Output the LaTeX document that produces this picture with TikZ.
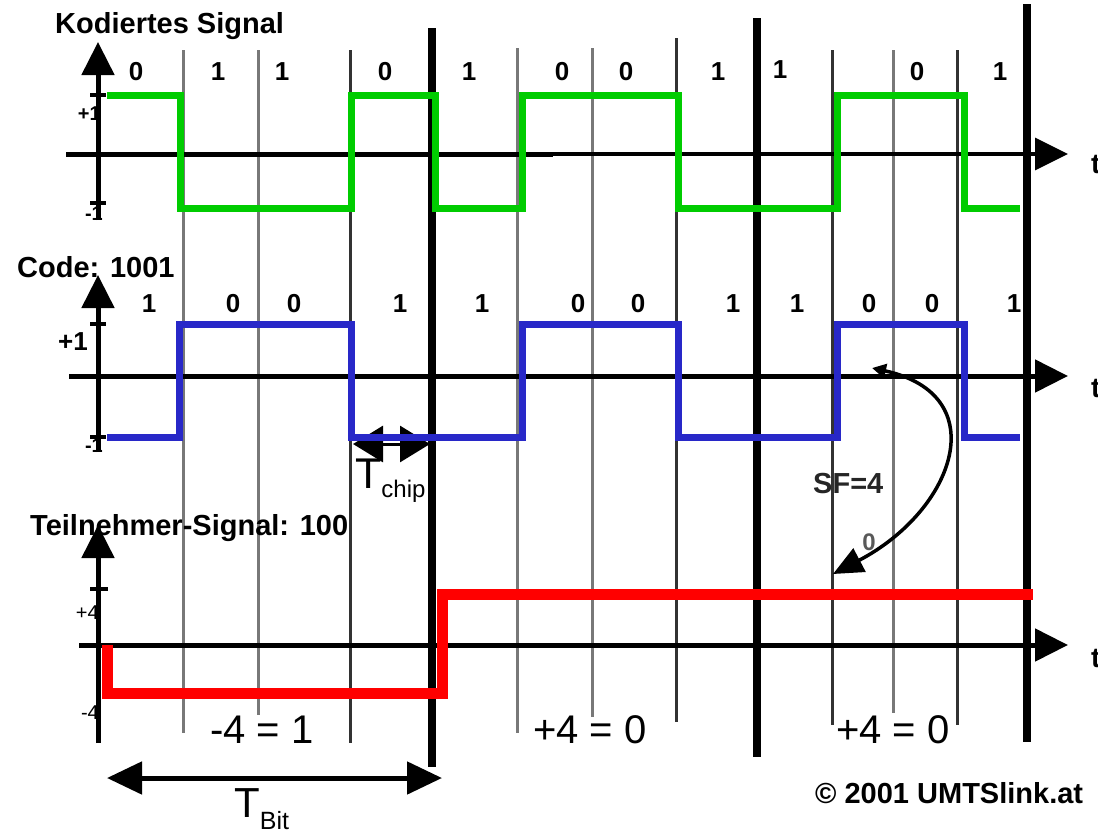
\documentclass[tikz,border=0pt]{standalone}
\usepackage{fontspec}
\setmainfont{Liberation Sans}
\usetikzlibrary{arrows.meta}
\definecolor{sgreen}{RGB}{0,204,0}
\definecolor{sblue}{RGB}{40,40,200}
\definecolor{sred}{RGB}{255,0,0}
\definecolor{glight}{RGB}{120,120,120}
\definecolor{gdark}{RGB}{50,50,50}
\begin{document}
\begin{tikzpicture}[x=1pt,y=-1pt,
  chipline/.style={line width=3pt,glight},
  chipdark/.style={line width=3pt,gdark},
  bitline/.style={line width=8pt,black},
  axisline/.style={line width=5pt,black},
  axarrow/.style={-{Triangle[length=33pt,width=32pt]}},
  tickline/.style={line width=4pt,black},
  sig/.style={line width=7pt,line join=miter},
  lbl/.style={inner sep=0pt,anchor=base,font=\fontsize{26}{26}\selectfont\bfseries},
  ttl/.style={inner sep=0pt,anchor=base west,font=\fontsize{29}{29}\selectfont\bfseries},
  big/.style={inner sep=0pt,anchor=base,font=\fontsize{40}{40}\selectfont},
  ylbl/.style={inner sep=0pt,anchor=base east,font=\fontsize{22}{22}\selectfont\bfseries},
  tlbl/.style={inner sep=0pt,anchor=base west,font=\fontsize{28}{28}\selectfont\bfseries},
]
\useasboundingbox[fill=white] (0,0) rectangle (1098,833);

% chip grid lines
\draw[chipline] (183,50) -- (183,733);
\draw[chipline] (258,50) -- (258,715);
\draw[chipdark] (350,50) -- (350,743);
\draw[chipline] (517,48) -- (517,733);
\draw[chipline] (592,48) -- (592,717);
\draw[chipdark] (676,38) -- (676,722);
\draw[chipdark] (832,50) -- (832,725);
\draw[chipline] (893,50) -- (893,713);
\draw[chipdark] (957,50) -- (957,725);
% bit boundaries
\draw[bitline] (432,28) -- (432,767);
\draw[bitline] (757,18) -- (757,757);
\draw[bitline] (1027,4) -- (1027,742);

% horizontal axes
\draw[axisline] (66,154) -- (553,154);
\draw[line width=3.5pt,axarrow] (553,154) -- (1068,154);
\draw[axisline,axarrow] (69,376) -- (1068,376);
\draw[axisline,axarrow] (79,645) -- (1068,645);
% vertical axes
\draw[axisline,axarrow] (98,220) -- (98,42);
\draw[axisline,axarrow] (98,452) -- (98,275);
\draw[axisline,axarrow] (98,743) -- (98,525);
% ticks
\draw[tickline] (90,95) -- (106,95);
\draw[tickline] (90,203) -- (106,203);
\draw[tickline] (90,324) -- (106,324);
\draw[tickline] (90,437) -- (106,437);
\draw[tickline] (90,589) -- (108,589);

% T_chip arrow (under the blue signal)
\coordinate (tca) at (353,444);
\coordinate (tcb) at (430,444);
\draw[line width=3pt,{Triangle[length=30pt,width=36pt]}-{Triangle[length=30pt,width=36pt]}] (tca) -- (tcb);

% signals
\draw[sig,sgreen] (107,95) -- (180,95) -- (180,208) -- (351,208) -- (351,95) -- (435,95) -- (435,208) -- (522,208) -- (522,95) -- (678,95) -- (678,208) -- (837,208) -- (837,95) -- (964,95) -- (964,208) -- (1020,208);
\draw[sig,sblue] (107,437) -- (179,437) -- (179,324) -- (351,324) -- (351,437) -- (522,437) -- (522,324) -- (678,324) -- (678,437) -- (837,437) -- (837,324) -- (964,324) -- (964,437) -- (1020,437);
\draw[line width=11pt,sred,line join=miter] (107,645) -- (107,693) -- (442,693) -- (442,594) -- (1033,594);

% titles
\node[ttl] (title1) at (55,33) {Kodiertes Signal};
\node[ttl] (title2) at (17,277) {Code: 1001};
\node[ttl] (title3) at (30,535) {Teilnehmer-Signal: 100};

% y labels
\node[ylbl,font=\fontsize{20}{20}\selectfont\bfseries] (p1a) at (101,120) {+1};
\node[ylbl,font=\fontsize{20}{20}\selectfont\bfseries] (m1a) at (103,220) {-1};
\node[ylbl,font=\fontsize{26}{26}\selectfont\bfseries] (p1b) at (88,350) {+1};
\node[ylbl,font=\fontsize{20}{20}\selectfont\bfseries] (m1b) at (103,452) {-1};
\node[ylbl,font=\fontsize{20}{20}\selectfont] (p4) at (99,619) {+4};
\node[ylbl,font=\fontsize{20}{20}\selectfont] (m4) at (99,719) {-4};

% chip labels row 1
\node[lbl] (a1) at (136,80) {0};
\node[lbl] (a2) at (218,80) {1};
\node[lbl] (a3) at (282,80) {1};
\node[lbl] (a4) at (385,80) {0};
\node[lbl] (a5) at (469,80) {1};
\node[lbl] (a6) at (562,80) {0};
\node[lbl] (a7) at (626,80) {0};
\node[lbl] (a8) at (718,80) {1};
\node[lbl] (a9) at (780,78) {1};
\node[lbl] (a11) at (917,80) {0};
\node[lbl] (a12) at (1000,80) {1};
% chip labels row 2
\node[lbl] (b1) at (149,312) {1};
\node[lbl] (b2) at (233,312) {0};
\node[lbl] (b3) at (294,312) {0};
\node[lbl] (b4) at (400,312) {1};
\node[lbl] (b5) at (482,312) {1};
\node[lbl] (b6) at (578,312) {0};
\node[lbl] (b7) at (638,312) {0};
\node[lbl] (b8) at (733,312) {1};
\node[lbl] (b9) at (797,312) {1};
\node[lbl] (b10) at (869,312) {0};
\node[lbl] (b11) at (932,312) {0};
\node[lbl] (b12) at (1014,312) {1};

% t labels (cut at the right edge)
\node[tlbl] (t1) at (1091,173) {t};
\node[tlbl] (t2) at (1091,397) {t};
\node[tlbl] (t3) at (1091,667) {t};

% bit results
\node[big] (r1) at (262,743) {-4 = 1};
\node[big] (r2) at (590,743) {+4 = 0};
\node[big] (r3) at (893,743) {+4 = 0};

% T_chip label
\node[inner sep=0pt,anchor=base west] (tchip) at (355,488) {\fontsize{43}{43}\selectfont T\raisebox{-9pt}{\fontsize{24}{24}\selectfont chip}};

% T_Bit arrow and label
\coordinate (tba) at (107,778);
\coordinate (tbb) at (442,778);
\draw[line width=5pt,{Triangle[length=35pt,width=32pt]}-{Triangle[length=35pt,width=32pt]}] (tba) -- (tbb);
\node[inner sep=0pt,anchor=base west] (tbit) at (234,817) {\fontsize{42}{42}\selectfont T\raisebox{-12pt}{\fontsize{25}{25}\selectfont Bit}};

% SF arrow
\coordinate (sfa) at (872,368);
\coordinate (sfb) at (833,574);
\draw[line width=3.5pt,{Triangle[length=14pt,width=14pt]}-{Triangle[length=30pt,width=26pt]}] (sfa) .. controls (995,395) and (955,510) .. (sfb);
\node[inner sep=0pt,anchor=base west,font=\fontsize{29}{29}\selectfont\bfseries,text=black!85] (sf) at (813,493) {SF=4};
\node[inner sep=0pt,anchor=base,font=\fontsize{24}{24}\selectfont\bfseries,text=black!65] (z0) at (869,550) {0};

% copyright
\node[inner sep=0pt,anchor=base west,font=\fontsize{29}{29}\selectfont\bfseries] (copy) at (815,803) {© 2001 UMTSlink.at};
\end{tikzpicture}
\end{document}
